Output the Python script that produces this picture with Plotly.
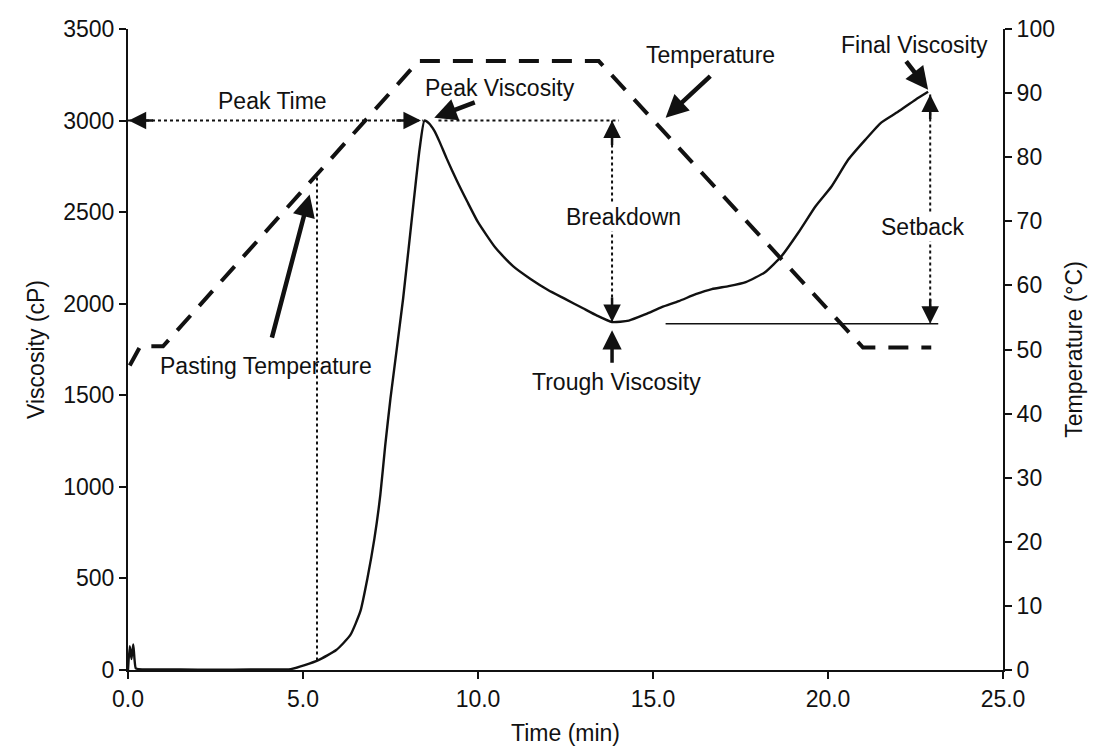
import numpy as np
import plotly.graph_objects as go

# ---------------- data ----------------
time_min = [0, 0.05, 0.1, 0.15, 0.22, 0.3, 1.0, 2.0, 3.0, 4.0, 4.65, 5.05, 5.44, 5.95,
            6.35, 6.64, 6.84, 7.04, 7.21, 7.35, 7.5, 7.86, 8.17, 8.33, 8.47, 8.6, 8.75,
            8.9, 9.1, 9.4, 9.7, 10.0, 10.5, 11.0, 11.5, 12.0, 12.5, 13.0, 13.4,
            13.83, 14.31, 14.79, 15.25, 15.74, 16.22, 16.68, 17.16, 17.65, 18.2, 18.67,
            19.16, 19.64, 20.1, 20.58, 21.07, 21.52, 22.0, 22.5, 22.86]
viscosity_cp = [0, 130, 60, 140, 10, 5, 3, 2, 2, 3, 5, 27, 54, 109,
                190, 321, 500, 717, 957, 1228, 1484, 2027, 2571, 2842, 3000, 2985, 2945,
                2885, 2795, 2670, 2555, 2445, 2305, 2205, 2135, 2075, 2025, 1975, 1935,
                1900, 1908, 1943, 1981, 2014, 2052, 2080, 2096, 2118, 2172, 2259,
                2390, 2531, 2640, 2787, 2896, 2989, 3048, 3114, 3157]

temp_time_min = [0.05, 0.35, 1.0, 8.3, 13.45, 21.0, 22.95]
temperature_c = [47.5, 50.5, 50.5, 95, 95, 50.3, 50.3]

x_ticks = [0, 5, 10, 15, 20, 25]
x_tick_labels = ["0.0", "5.0", "10.0", "15.0", "20.0", "25.0"]
visc_ticks = [0, 500, 1000, 1500, 2000, 2500, 3000, 3500]
temp_ticks = [0, 10, 20, 30, 40, 50, 60, 70, 80, 90, 100]

pasting_time = 5.4          # onset of viscosity rise (min)
hold_end_time = 16.0        # end of hot-hold window used to find peak/trough (min)
setback_line_start = 15.36  # start of the trough reference line (min)
setback_line_end = 23.15

# annotation label positions (x in min, y in cP)
labels = [
    ("Peak Time", 4.13, 3108, False),
    ("Peak Viscosity", 10.63, 3179, False),
    ("Temperature", 16.65, 3359, False),
    ("Final Viscosity", 22.46, 3413, False),
    ("Breakdown", 14.17, 2471, True),
    ("Setback", 22.72, 2417, True),
    ("Trough Viscosity", 13.97, 1573, False),
    ("Pasting Temperature", 3.93, 1660, False),
]
# thick pointer arrows: (head_x, head_y, tail_x, tail_y)
pointers = [
    (5.19, 2597, 4.10, 1807),    # pasting temperature
    (15.36, 3016, 16.68, 3250),  # temperature
    (22.86, 3168, 22.20, 3331),  # final viscosity
    (8.75, 3016, 9.95, 3103),    # peak viscosity
]

FONT = "Liberation Sans, Arial, Helvetica, sans-serif"
BLACK = "#111111"

# ---------------- derived key points ----------------
t = np.array(time_min, dtype=float)
v = np.array(viscosity_cp, dtype=float)
hold = t < hold_end_time
ipk = int(np.argmax(np.where(hold, v, -1)))
peak_t, peak_v = t[ipk], v[ipk]
after = hold & (t > peak_t)
itr = int(np.argmin(np.where(after, v, 1e9)))
trough_t, trough_v = t[itr], v[itr]
final_t, final_v = t[-1], v[-1]
paste_v = float(np.interp(pasting_time, t, v))
paste_temp = float(np.interp(pasting_time, temp_time_min, temperature_c))
paste_top = paste_temp * 3500.0 / 100.0

fig = go.Figure()
fig.add_trace(go.Scatter(x=time_min, y=viscosity_cp, mode="lines",
                         line=dict(color=BLACK, width=2.4, shape="spline", smoothing=0.5),
                         showlegend=False, hoverinfo="skip"))
fig.add_trace(go.Scatter(x=temp_time_min, y=temperature_c, mode="lines", yaxis="y2",
                         line=dict(color=BLACK, width=4, dash="20px,13px"),
                         showlegend=False, hoverinfo="skip"))

shapes = []
def seg(x0, y0, x1, y1, dash="dot", width=2):
    shapes.append(dict(type="line", xref="x", yref="y", x0=x0, y0=y0, x1=x1, y1=y1,
                       line=dict(color=BLACK, width=width, dash=dash)))

seg(0, peak_v, peak_t - 0.05, peak_v)                       # peak time
seg(peak_t + 0.4, peak_v, trough_t + 0.2, peak_v)           # peak level
seg(trough_t, peak_v, trough_t, trough_v)                   # breakdown
seg(setback_line_start, trough_v - 10, setback_line_end, trough_v - 10, dash="solid", width=1.5)
seg(final_t + 0.06, final_v - 15, final_t + 0.06, trough_v - 10)   # setback
seg(pasting_time, paste_v, pasting_time, paste_top)         # pasting temp drop line

annotations = []
def head(x, y, ax, ay):
    annotations.append(dict(x=x, y=y, xref="x", yref="y", ax=ax, ay=ay, text="",
                            showarrow=True, arrowhead=2, arrowsize=1.4, arrowwidth=2.5,
                            arrowcolor=BLACK, standoff=0))

head(0.02, peak_v, 26, 0)
head(peak_t - 0.1, peak_v, -26, 0)
head(trough_t, peak_v, 0, 26)
head(trough_t, trough_v, 0, -26)
head(final_t + 0.06, final_v - 15, 0, 26)
head(final_t + 0.06, trough_v - 10, 0, -26)
annotations.append(dict(x=trough_t, y=trough_v - 45, xref="x", yref="y", ax=0, ay=34,
                        text="", showarrow=True, arrowhead=2, arrowsize=1.1,
                        arrowwidth=3.5, arrowcolor=BLACK, standoff=0))

for hx, hy, tx, ty in pointers:
    annotations.append(dict(x=hx, y=hy, ax=tx, ay=ty, xref="x", yref="y",
                            axref="x", ayref="y", text="", showarrow=True,
                            arrowhead=2, arrowsize=1.0, arrowwidth=4.5,
                            arrowcolor=BLACK, standoff=0))

for txt, lx, ly, bg in labels:
    annotations.append(dict(x=lx, y=ly, xref="x", yref="y", text=txt, showarrow=False,
                            font=dict(family=FONT, size=23, color=BLACK),
                            bgcolor="white" if bg else "rgba(0,0,0,0)", borderpad=1))

fig.update_layout(
    width=1095, height=754,
    margin=dict(l=128, r=91, t=29, b=82),
    paper_bgcolor="white", plot_bgcolor="white",
    font=dict(family=FONT, size=23, color=BLACK),
    shapes=shapes, annotations=annotations,
    xaxis=dict(range=[0, 25], tickvals=x_ticks, ticktext=x_tick_labels,
               showgrid=False, zeroline=False, showline=True, linecolor=BLACK,
               linewidth=2, ticks="outside", ticklen=7, tickwidth=2, tickcolor=BLACK,
               title=dict(text="Time (min)", font=dict(size=23), standoff=14),
               tickfont=dict(size=23)),
    yaxis=dict(range=[0, 3500], tickvals=visc_ticks, showgrid=False, zeroline=False,
               showline=True, linecolor=BLACK, linewidth=2, ticks="outside",
               ticklen=7, tickwidth=2, tickcolor=BLACK,
               title=dict(text="Viscosity (cP)", font=dict(size=23), standoff=12),
               tickfont=dict(size=23)),
    yaxis2=dict(range=[0, 100], tickvals=temp_ticks, overlaying="y", side="right",
                showgrid=False, zeroline=False, showline=True, linecolor=BLACK,
                linewidth=2, ticks="outside", ticklen=7, tickwidth=2, tickcolor=BLACK,
                title=dict(text="Temperature (°C)", font=dict(size=23), standoff=12),
                tickfont=dict(size=23)),
)

fig.write_html("out.html", config={"displayModeBar": False},
               post_script="document.body.style.margin='0';document.body.style.overflow='hidden';")
